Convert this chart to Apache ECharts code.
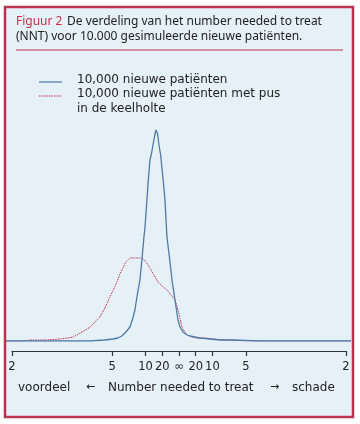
<!DOCTYPE html>
<html><head><meta charset="utf-8">
<script src="https://cdn.jsdelivr.net/npm/echarts@6/dist/echarts.min.js"></script>
<style>html,body{margin:0;padding:0;background:#fff}#c{width:360px;height:424px}</style>
</head><body><div id="c"></div>
<script>
// x: risk difference (negative = benefit), NNT = 1/|x|
const tickValues = [-0.5, -0.2, -0.1, -0.05, 0, 0.05, 0.1, 0.2, 0.5];
const tickLabels = ['2', '5', '10', '20', '\u221e', '20', '10', '5', '2'];
// estimated density (relative height) for series 1
const blueX = [-0.52,-0.446,-0.356,-0.267,-0.222,-0.198,-0.183,-0.171,-0.159,-0.147,-0.138,-0.132,-0.126,-0.117,-0.111,-0.105,-0.102,-0.096,-0.093,-0.087,-0.082,-0.078,-0.073,-0.069,-0.064,-0.060,-0.055,-0.051,-0.046,-0.042,-0.039,-0.036,-0.027,-0.021,-0.012,-0.003,0.003,0.012,0.024,0.033,0.048,0.063,0.093,0.123,0.153,0.243,0.365,0.515];
const blueY = [0,0,0,0,1,2,3,5,9,14,23,31,44,61,81,104,113,141,156,181,188,196,205,211,207,196,186,173,156,141,121,104,79,61,41,21,14,9,6,5,4,3,2,1,1,0,0,0];
// estimated density for series 2
const redX = [-0.52,-0.476,-0.437,-0.401,-0.356,-0.317,-0.296,-0.266,-0.246,-0.237,-0.222,-0.207,-0.198,-0.186,-0.177,-0.168,-0.159,-0.153,-0.147,-0.132,-0.117,-0.111,-0.099,-0.087,-0.075,-0.063,-0.051,-0.036,-0.024,-0.012,-0.003,0.003,0.009,0.018,0.024,0.039,0.054,0.078,0.102,0.153,0.243,0.365,0.515];
const redY = [0,0,1,1,2,4,8,14,21,24,33,44,50,59,67,73,79,81,83,83,83,83,79,73,66,59,55,51,46,41,31,23,14,9,6,4,3,3,2,1,0,0,0];

const blue = blueX.map((x,i)=>[x, blueY[i]]);
const red = redX.map((x,i)=>[x, redY[i]]);

const chart = echarts.init(document.getElementById('c'), null, {renderer:'canvas'});
const fontMain = '"Noto Sans", sans-serif';
const fontLeg = '"DejaVu Sans", sans-serif';
const ext = 5/334;
chart.setOption({
  animation:false,
  backgroundColor:'#ffffff',
  graphic:[
    {type:'rect', z:-10, shape:{x:5,y:7,width:348,height:410}, style:{fill:'#e6f0f7', stroke:'#b9334f', lineWidth:2.5}},
    {type:'text', left:16, top:16, style:{text:'Figuur 2', fill:'#c0304a', fontFamily:fontMain, fontSize:12}},
    {type:'text', left:67, top:16, style:{text:'De verdeling van het number needed to treat', fill:'#222', fontFamily:fontMain, fontSize:12}},
    {type:'text', left:16, top:31, style:{text:'(NNT) voor 10.000 gesimuleerde nieuwe patiënten.', fill:'#222', fontFamily:fontMain, fontSize:12}},
    {type:'line', shape:{x1:16,y1:50,x2:343,y2:50}, style:{stroke:'#c0304a', lineWidth:1}},
    {type:'line', shape:{x1:39,y1:82,x2:62,y2:82}, style:{stroke:'#4d7aa6', lineWidth:1.2}},
    {type:'line', shape:{x1:39,y1:96,x2:62,y2:96}, style:{stroke:'#c0304a', lineWidth:1, lineDash:[1.5,1]}},
    {type:'text', left:77, top:74, style:{text:'10,000 nieuwe patiënten', fill:'#222', fontFamily:fontLeg, fontSize:12}},
    {type:'text', left:77, top:88, style:{text:'10,000 nieuwe patiënten met pus', fill:'#222', fontFamily:fontLeg, fontSize:12}},
    {type:'text', left:77, top:103, style:{text:'in de keelholte', fill:'#222', fontFamily:fontLeg, fontSize:12}},
    {type:'text', left:18, top:382, style:{text:'voordeel', fill:'#222', fontFamily:fontLeg, fontSize:12}},
    {type:'text', left:86, top:382, style:{text:'\u2190', fill:'#222', fontFamily:fontLeg, fontSize:11}},
    {type:'text', left:108, top:382, style:{text:'Number needed to treat', fill:'#222', fontFamily:fontLeg, fontSize:12}},
    {type:'text', left:270, top:382, style:{text:'\u2192', fill:'#222', fontFamily:fontLeg, fontSize:11}},
    {type:'text', left:292, top:382, style:{text:'schade', fill:'#222', fontFamily:fontLeg, fontSize:12}}
  ],
  grid:[
    {left:12, width:334, top:121, bottom:73},
    {left:7, width:344, top:121, bottom:83}
  ],
  xAxis:[
    {type:'value', gridIndex:0, min:-0.5, max:0.5,
     axisLine:{show:true, onZero:false, lineStyle:{color:'#333', width:1.2}},
     axisTick:{show:true, customValues:tickValues, length:5, lineStyle:{color:'#333', width:1.2}},
     axisLabel:{show:true, customValues:tickValues, margin:10, color:'#222', fontFamily:fontLeg, fontSize:11.5,
       formatter:(v)=>{const i=tickValues.findIndex(t=>Math.abs(t-v)<1e-9);return i>=0?tickLabels[i]:'';}},
     splitLine:{show:false}},
    {type:'value', gridIndex:1, min:-0.5-ext, max:0.5+ext, show:false}
  ],
  yAxis:[
    {type:'value', gridIndex:0, min:0, max:230, show:false},
    {type:'value', gridIndex:1, min:0, max:220, show:false}
  ],
  series:[
    {type:'line', name:'10,000 nieuwe patiënten met pus in de keelholte', xAxisIndex:1, yAxisIndex:1, data:red, showSymbol:false, smooth:0.15,
     lineStyle:{color:'#c0304a', width:1, type:[1.5,1]}},
    {type:'line', name:'10,000 nieuwe patiënten', xAxisIndex:1, yAxisIndex:1, data:blue, showSymbol:false, smooth:false,
     lineStyle:{color:'#4d7aa6', width:1.3}}
  ]
});
</script></body></html>
